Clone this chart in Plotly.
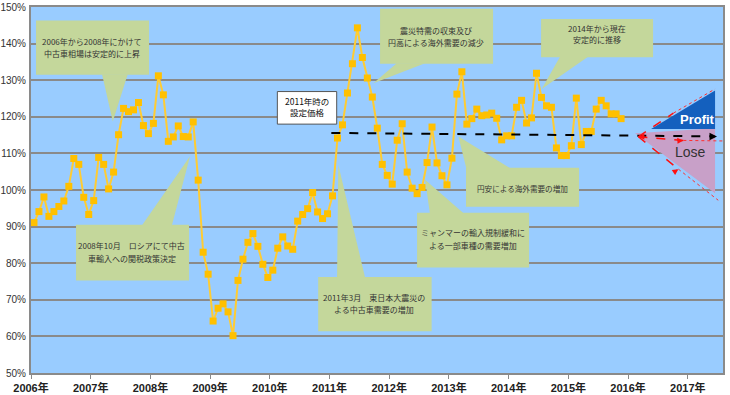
import plotly.graph_objects as go

# ---------------- data ----------------
v2006 = [91.1, 94.1, 98.1, 92.8, 94.1, 95.5, 97.0, 101.0, 108.6, 107.0, 98.0, 93.3]
v2007 = [97.1, 108.9, 107.0, 100.3, 104.9, 115.1, 122.3, 121.4, 121.9, 123.9, 117.6, 115.4]
v2008 = [118.2, 131.2, 126.0, 113.3, 114.5, 117.5, 114.6, 114.5, 118.6, 102.7, 83.0, 77.0]
v2009 = [64.2, 67.7, 68.9, 66.7, 60.2, 75.3, 81.1, 85.7, 88.1, 84.6, 79.7, 76.1]
v2010 = [78.1, 84.1, 87.2, 84.7, 83.8, 91.5, 93.3, 94.9, 99.3, 94.0, 92.2, 93.5]
v2011 = [98.4, 114.2, 117.8, 126.5, 134.5, 144.3, 136.2, 130.6, 125.4, 116.9, 107.0, 104.0]
v2012 = [101.6, 113.6, 118.1, 104.9, 100.5, 99.0, 100.7, 107.5, 117.2, 107.4, 103.9, 101.4]
v2013 = [108.7, 126.2, 132.3, 118.0, 119.5, 122.1, 120.3, 120.5, 121.0, 119.6, 113.7, 114.8]
v2014 = [114.8, 122.6, 124.5, 118.3, 119.7, 131.9, 125.3, 123.0, 122.6, 111.5, 109.4, 109.4]
v2015 = [112.1, 125.1, 112.4, 116.0, 116.0, 122.1, 124.5, 123.0, 120.8, 120.8, 119.5]

values = v2006 + v2007 + v2008 + v2009 + v2010 + v2011 + v2012 + v2013 + v2014 + v2015
start_year = 2006
x_months = [start_year + (i + 0.6) / 12 for i in range(len(values))]

tick_years = list(range(2006, 2018))
tick_year_labels = [f"<b>{y}年</b>" for y in tick_years]
tick_pcts = list(range(50, 151, 10))
tick_pct_labels = [f"{p}%" for p in tick_pcts]

set_price_line = [(2011.03, 115.6), (2017.49, 114.65)]

JP = "Noto Sans CJK JP"
CALLOUT = "#C4D79B"
TXT = "#333333"

fig = go.Figure()

fig.add_trace(go.Scatter(
    x=x_months, y=values, mode="lines+markers",
    line=dict(color="#FFCC33", width=2),
    marker=dict(symbol="square", size=7, color="#FFC000"),
    hoverinfo="skip", showlegend=False,
))

shapes = []
annotations = []

def callout(box, tri, lines, center, size=8):
    x0, x1, y0, y1 = box
    shapes.append(dict(type="rect", xref="x", yref="y", x0=x0, x1=x1, y0=y0, y1=y1,
                       fillcolor=CALLOUT, line=dict(width=0), layer="above"))
    path = "M {} {} L {} {} L {} {} Z".format(tri[0][0], tri[0][1], tri[1][0], tri[1][1],
                                              tri[2][0], tri[2][1])
    shapes.append(dict(type="path", xref="x", yref="y", path=path,
                       fillcolor=CALLOUT, line=dict(width=0), layer="above"))
    for txt, (cx, cy) in zip(lines, center):
        annotations.append(dict(x=cx, y=cy, xref="x", yref="y", text=txt, showarrow=False,
                                font=dict(family=JP, size=size, color=TXT)))

callout((2006.084, 2007.977, 131.5, 146.3),
        [(2007.19, 131.6), (2007.62, 131.6), (2007.37, 118.7)],
        ["2006年から2008年にかけて", "中古車相場は安定的に上昇"],
        [(2007.02, 140.6), (2007.02, 137.4)])
callout((2006.754, 2008.647, 75.3, 90.5),
        [(2007.86, 90.4), (2008.36, 90.4), (2008.663, 109.2)],
        ["2008年10月　ロシアにて中古", "車輸入への関税政策決定"],
        [(2007.69, 84.8), (2007.69, 81.3)])
callout((2010.81, 2012.71, 61.4, 76.2),
        [(2011.126, 76.1), (2011.595, 76.1), (2011.147, 106.9)],
        ["2011年3月　東日本大震災の", "よる中古車需要の増加"],
        [(2011.75, 70.6), (2011.75, 67.3)])
callout((2011.846, 2013.739, 134.5, 149.5),
        [(2012.126, 134.6), (2012.60, 134.6), (2011.734, 129.2)],
        ["震災特需の収束及び", "円高による海外需要の減少"],
        [(2012.78, 143.5), (2012.78, 140.3)])
callout((2014.543, 2016.419, 136.3, 146.7),
        [(2014.86, 136.4), (2015.33, 136.4), (2014.554, 127.6)],
        ["2014年から現在", "安定的に推移"],
        [(2015.48, 144.0), (2015.48, 141.0)])
callout((2013.286, 2015.179, 95.4, 106.1),
        [(2013.29, 106.0), (2014.02, 106.0), (2013.158, 114.6)],
        ["円安による海外需要の増加"],
        [(2014.225, 100.4)], size=7.6)
callout((2012.466, 2014.342, 78.8, 93.8),
        [(2012.68, 93.7), (2013.24, 93.7), (2012.60, 102.8)],
        ["ミャンマーの輸入規制緩和に", "よる一部車種の需要増加"],
        [(2013.41, 88.3), (2013.41, 84.8)])

# set price label box
shapes.append(dict(type="rect", xref="x", yref="y", x0=2010.126, x1=2011.12, y0=118.0, y1=126.9,
                   fillcolor="white", line=dict(color="#555555", width=1), layer="above"))
annotations.append(dict(x=2010.623, y=124.2, xref="x", yref="y", text="2011年時の", showarrow=False,
                        font=dict(family=JP, size=8.5, color="#111")))
annotations.append(dict(x=2010.623, y=121.2, xref="x", yref="y", text="設定価格", showarrow=False,
                        font=dict(family=JP, size=8.5, color="#111")))

# profit / lose triangles
shapes.append(dict(type="path", xref="x", yref="y",
                   path="M 2016.117 115.5 L 2017.457 116.9 L 2017.457 99.1 Z",
                   fillcolor="#C8A0C8", line=dict(width=0), layer="above"))
shapes.append(dict(type="path", xref="x", yref="y",
                   path="M 2016.385 116.7 L 2017.457 127.2 L 2017.457 116.7 Z",
                   fillcolor="#1460BE", line=dict(width=0), layer="above"))

# black dashed set-price line
(lx0, ly0), (lx1, ly1) = set_price_line
shapes.append(dict(type="line", xref="x", yref="y", x0=lx0, y0=ly0, x1=lx1 - 0.05, y1=ly1,
                   line=dict(color="black", width=2, dash="dash"), layer="above"))
annotations.append(dict(x=lx1, y=ly1, ax=lx1 - 0.12, ay=ly1, xref="x", yref="y",
                        axref="x", ayref="y", text="", showarrow=True, arrowhead=2,
                        arrowsize=1, arrowwidth=1.5, arrowcolor="black"))

# red dashed projections
apex = (2016.173, 114.55)
red_lines = [
    ((2016.759, 121.0), (2017.457, 127.6)),
    ((2016.926, 113.55), (2017.59, 113.4)),
    ((2016.843, 105.7), (2017.51, 97.2)),
]
for (mx, my), (ex, ey) in red_lines:
    shapes.append(dict(type="line", xref="x", yref="y", x0=apex[0], y0=apex[1], x1=mx, y1=my,
                       line=dict(color="#FF1010", width=1.5, dash="dash"), layer="above"))
    shapes.append(dict(type="line", xref="x", yref="y", x0=mx, y0=my, x1=ex, y1=ey,
                       line=dict(color="#FF3030", width=1, dash="dot"), layer="above"))
for (mx, my), _ in red_lines[1:]:
    annotations.append(dict(x=mx, y=my, ax=mx - 0.08, ay=my + (my - apex[1]) * 0.1,
                            xref="x", yref="y", axref="x", ayref="y", text="", showarrow=True,
                            arrowhead=2, arrowsize=1, arrowwidth=1.2, arrowcolor="#FF1010"))
annotations.append(dict(x=apex[0], y=apex[1], ax=apex[0] + 0.1, ay=apex[1], xref="x", yref="y",
                        axref="x", ayref="y", text="", showarrow=True, arrowhead=2,
                        arrowsize=1, arrowwidth=1.2, arrowcolor="#FF1010"))

annotations.append(dict(x=2017.16, y=119.4, xref="x", yref="y", text="<b>Profit</b>", showarrow=False,
                        font=dict(family="Liberation Sans Narrow, Arial Narrow, Liberation Sans", size=13,
                                  color="white")))
annotations.append(dict(x=2017.05, y=110.3, xref="x", yref="y", text="Lose", showarrow=False,
                        font=dict(family="Liberation Sans Narrow, Arial Narrow, Liberation Sans", size=14,
                                  color="#333333")))

fig.update_layout(
    width=730, height=395,
    margin=dict(l=31, r=7, t=7, b=22, autoexpand=False),
    paper_bgcolor="white", plot_bgcolor="#99CCFF",
    shapes=shapes, annotations=annotations,
    showlegend=False,
    xaxis=dict(range=[2006, 2017.59], tickvals=tick_years, ticktext=tick_year_labels,
               showgrid=False, zeroline=False, showline=True, linecolor="#8a8a8a", linewidth=2,
               mirror=True, ticks="outside", ticklen=4, tickcolor="#8a8a8a", automargin=False,
               tickfont=dict(family="Liberation Sans, " + JP, size=11, color="#222")),
    yaxis=dict(range=[50, 150], tickvals=tick_pcts, ticktext=tick_pct_labels,
               showgrid=True, gridcolor="#8a8a8a", gridwidth=2, zeroline=False,
               showline=True, linecolor="#8a8a8a", linewidth=2, mirror=True, automargin=False,
               ticks="", ticklabelstandoff=1,
               tickfont=dict(family="Liberation Sans", size=10, color="#333")),
)

fig.write_html("out.html", config={"displayModeBar": False},
               post_script="document.body.style.margin='0';document.body.style.overflow='hidden';")
